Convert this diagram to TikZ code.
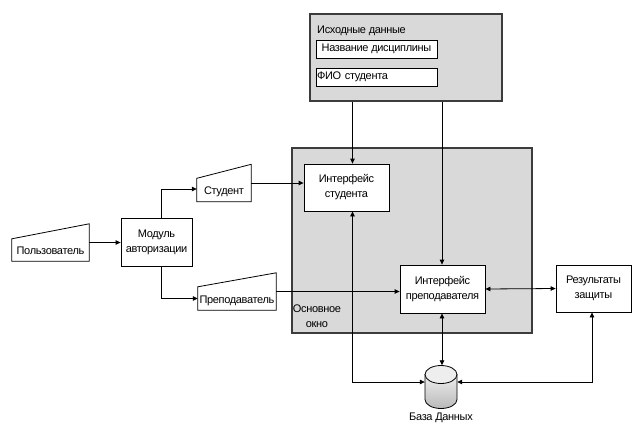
\documentclass[tikz,border=0pt]{standalone}
\usepackage{fontspec}
\setmainfont{Liberation Sans}[LetterSpace=-3]
\usetikzlibrary{arrows.meta, positioning, calc}
\definecolor{winGray}{RGB}{217,217,217}
\definecolor{frameInk}{RGB}{60,60,60}
\definecolor{dbDark}{RGB}{185,185,185}
\definecolor{dbLight}{RGB}{238,238,238}

\begin{document}
\begin{tikzpicture}[x=1pt, y=-1pt,
    font=\fontsize{11}{15}\selectfont,
    box/.style={draw, fill=white, line width=0.8pt, align=center, inner sep=0pt},
    area/.style={draw=frameInk, fill=winGray, line width=1.4pt, inner sep=0pt},
    manual/.style={inner sep=0pt, text height=30pt, text depth=7pt},
    arrow/.style={-{Triangle[length=5pt,width=4.5pt]}, line width=0.8pt},
    twoway/.style={{Triangle[length=5pt,width=4.5pt]}-{Triangle[length=5pt,width=4.5pt]}, line width=0.8pt}
  ]
  \useasboundingbox (0,0) rectangle (632,424);

  % grey areas
  \node[area, minimum width=192pt, minimum height=87pt] (src) at (406,57.5) {};
  \node[area, minimum width=240pt, minimum height=185pt] (mainwin) at (412,240.5) {};

  \node[anchor=base west, inner sep=0pt] (srctitle) at (317,33) {Исходные данные};
  \node[box, minimum width=121pt, minimum height=18pt] (discname) at (376.5,49) {Название дисциплины};
  \node[box, minimum width=121pt, minimum height=18pt, text width=119pt, align=left] (fio) at (376.5,77) {ФИО студента};
  \node[align=center, inner sep=0pt] (mainlabel) at (317,316) {Основное\\окно};

  % manual input shapes
  \node[manual, minimum width=77pt] (user) at (50.5,242.5) {Пользователь};
  \node[manual, minimum width=54pt] (stud) at (224,183) {Студент};
  \node[manual, minimum width=78pt] (teach) at (237,291.5) {Преподаватель};
  \foreach \n/\r in {user/15,stud/14,teach/14}
    \draw[line width=0.8pt] (\n.south west) -- (\n.south east) -- (\n.north east)
      -- ($(\n.north west)+(0,\r)$) -- cycle;

  \node[box, minimum width=71pt, minimum height=48pt] (auth) at (156.5,242) {Модуль\\авторизации};
  \node[box, minimum width=85pt, minimum height=47pt] (istud) at (346.5,187.5) {Интерфейс\\студента};
  \node[box, minimum width=85pt, minimum height=48pt] (iteach) at (442.5,289) {Интерфейс\\преподавателя};
  \node[box, minimum width=75pt, minimum height=47pt] (result) at (593.5,288.5) {Результаты\\защиты};

  % data base drum
  \node[minimum width=32pt, minimum height=43pt, inner sep=0pt] (db) at (441,387) {};
  \draw[line width=0.8pt, top color=dbLight, bottom color=dbDark]
    (425,374.5) -- (425,399.5) .. controls (425,404.5) and (432.2,408.5) .. (441,408.5)
    .. controls (449.8,408.5) and (457,404.5) .. (457,399.5) -- (457,374.5) -- cycle;
  \draw[line width=0.8pt, fill=dbLight] (441,374.5) ellipse (16 and 9);
  \node[below=4pt of db, inner sep=0pt] (dblabel) {База Данных};

  \coordinate (authcol) at (161,0);
  \coordinate (studcol) at (352.5,0);
  \coordinate (teachcol) at (442,0);
  \coordinate (rescol) at (592,0);
  \coordinate (dbrow) at (0,382);

  \draw[arrow] (user.east) -- (user.east -| auth.west);
  \draw[arrow] (auth.north -| authcol) |- ([yshift=-6pt]stud.west);
  \draw[arrow] (auth.south -| authcol) |- ([yshift=-7pt]teach.west);
  \draw[arrow] (stud.east) -- (stud.east -| istud.west);
  \draw[arrow] (teach.east) -- (teach.east -| iteach.west);
  \draw[arrow] (src.south -| studcol) -- (istud.north -| studcol);
  \draw[arrow] (src.south -| teachcol) -- (iteach.north -| teachcol);
  \draw[twoway] (iteach.east) -- (result.west);
  \draw[twoway] (iteach.south -| teachcol) -- (db.north -| teachcol);
  \draw[twoway] (istud.south -| studcol) |- (db.west |- dbrow);
  \draw[twoway] (result.south -| rescol) |- (db.east |- dbrow);
\end{tikzpicture}
\end{document}
